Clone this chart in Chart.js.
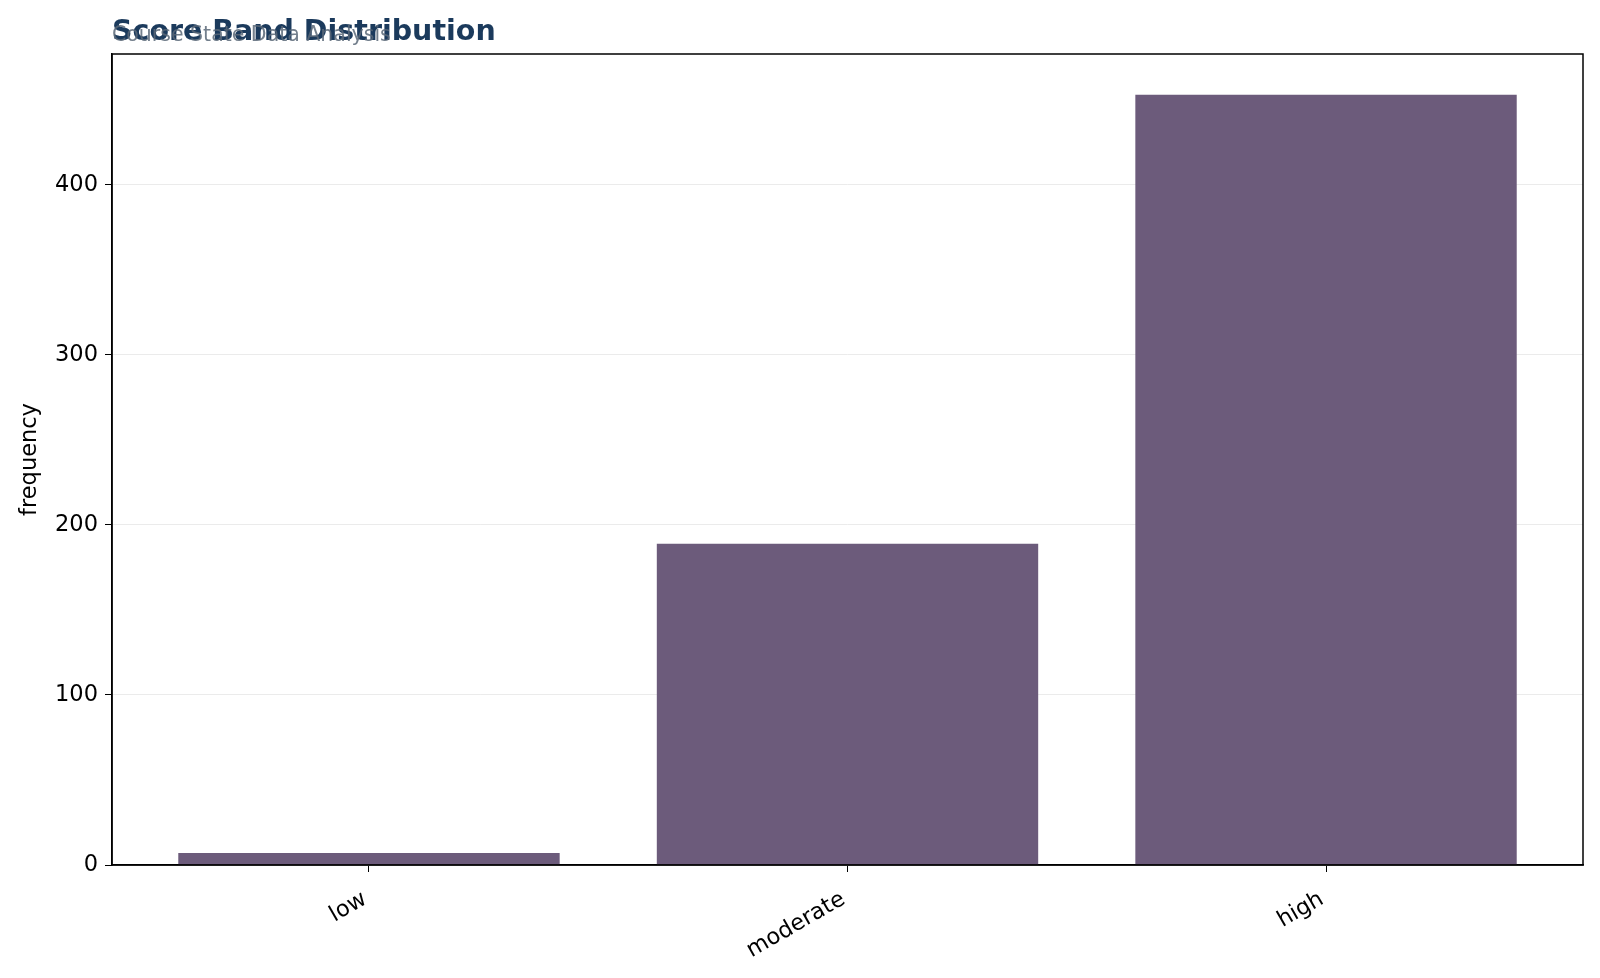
<!DOCTYPE html>
<html>
<head>
<meta charset="utf-8">
<script src="https://cdn.jsdelivr.net/npm/chart.js@4"></script>
<style>
  body { margin: 0; background: #fff; }
  #wrap { width: 1600px; height: 978px; }
</style>
</head>
<body>
<div id="wrap"><canvas id="bands" width="1600" height="978"></canvas></div>
<script>
const bands = ["low", "moderate", "high"];
const counts = [7, 189, 453];
const yTicks = [0, 100, 200, 300, 400];

const titleText = "Score Band Distribution";
const subText = "Course State Data Analysis";

// box round the plot + the heading in the top left
const frame = {
  id: 'frame',
  afterDraw(chart) {
    const c = chart.ctx, a = chart.chartArea;
    c.save();
    c.strokeStyle = '#000';
    c.lineWidth = 1.5;
    c.strokeRect(a.left, a.top, a.right - a.left, a.bottom - a.top);
    c.textAlign = 'left';
    c.textBaseline = 'alphabetic';
    c.fillStyle = '#1b3a5c';
    c.font = 'bold 28.5px "DejaVu Sans"';
    c.fillText(titleText, 112, 40);
    c.fillStyle = 'rgba(90,105,120,0.85)';
    c.font = '20.5px "DejaVu Sans"';
    c.fillText(subText, 112, 41);
    c.restore();
  }
};

Chart.defaults.font.family = '"DejaVu Sans", sans-serif';
Chart.defaults.color = '#000';

new Chart("bands", {
  type: "bar",
  data: {
    datasets: [{
      data: counts.map((v, i) => ({ x: i, y: v })),
      backgroundColor: "#6c5b7b",
      categoryPercentage: 1.0,
      barPercentage: 0.797
    }]
  },
  options: {
    responsive: false,
    animation: false,
    devicePixelRatio: 1,
    layout: { padding: { top: 54, right: 17, left: 17, bottom: 0 } },
    plugins: { legend: { display: false }, tooltip: { enabled: false } },
    scales: {
      x: {
        type: 'linear',
        offset: false,
        min: -0.537,
        max: 2.537,
        afterFit(s) { s.height = 978 - 865; },
        afterBuildTicks(s) { s.ticks = bands.map((b, i) => ({ value: i })); },
        grid: { offset: false, drawOnChartArea: false, tickColor: '#000', tickLength: 7 },
        border: { color: '#000', width: 1.5 },
        ticks: {
          font: { size: 22.5 }, maxRotation: 30, minRotation: 30, padding: 14, labelOffset: -4,
          callback: v => bands[v]
        }
      },
      y: {
        min: 0,
        max: 477,
        afterFit(s) { s.width = 95; },
        afterBuildTicks(s) { s.ticks = yTicks.map(v => ({ value: v })); },
        grid: { color: '#ebebeb', tickColor: '#000', tickLength: 7 },
        border: { color: '#000', width: 1.5 },
        ticks: { font: { size: 22.5 }, padding: 7 },
        title: { display: true, text: "frequency", font: { size: 22.5 }, padding: 0 }
      }
    }
  },
  plugins: [frame]
});
</script>
</body>
</html>
